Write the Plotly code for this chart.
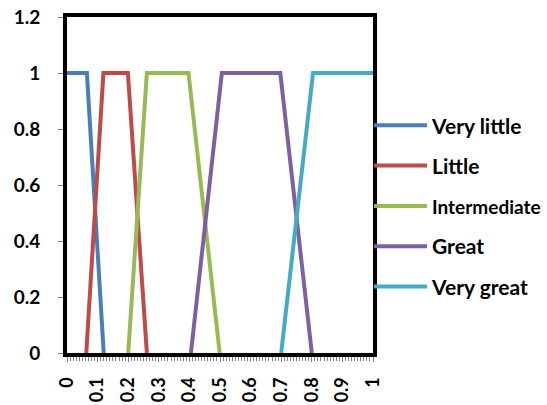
import plotly.graph_objects as go

series_names = ["Very little", "Little", "Intermediate", "Great", "Very great"]
x_very_little = [0, 0.065, 0.12]
y_very_little = [1, 1, 0]
x_little = [0.063, 0.119, 0.199, 0.261]
y_little = [0, 1, 1, 0]
x_intermediate = [0.2, 0.261, 0.397, 0.499]
y_intermediate = [0, 1, 1, 0]
x_great = [0.405, 0.506, 0.697, 0.8]
y_great = [0, 1, 1, 0]
x_very_great = [0.7, 0.804, 1]
y_very_great = [0, 1, 1]

x_tick_vals = [0, 0.1, 0.2, 0.3, 0.4, 0.5, 0.6, 0.7, 0.8, 0.9, 1]
x_tick_text = ["0", "0.1", "0.2", "0.3", "0.4", "0.5", "0.6", "0.7", "0.8", "0.9", "1"]
y_tick_vals = [0, 0.2, 0.4, 0.6, 0.8, 1, 1.2]
y_tick_text = ["0", "0.2", "0.4", "0.6", "0.8", "1", "1.2"]

colors = ["#4A7EBB", "#BE4B48", "#98B954", "#7D60A0", "#46AAC5"]
xs = [x_very_little, x_little, x_intermediate, x_great, x_very_great]
ys = [y_very_little, y_little, y_intermediate, y_great, y_very_great]

FONT = "Lato"

fig = go.Figure()
for name, xv, yv, c in zip(series_names, xs, ys, colors):
    label = name
    if name == "Intermediate":
        label = "<span style='font-size:19px'>" + name + "</span>"
    fig.add_trace(go.Scatter(x=xv, y=yv, name=label, mode="lines",
                             line=dict(color=c, width=4), legendgroup=name))

axis_common = dict(showline=True, linecolor="black", linewidth=4, mirror=True,
                   showgrid=False, zeroline=False, layer="above traces",
                   automargin=False,
                   ticks="outside", tickcolor="#808080", ticklen=5)

fig.update_layout(
    width=547, height=405,
    margin=dict(l=67, r=174, t=17, b=52, autoexpand=False),
    paper_bgcolor="white", plot_bgcolor="white",
    showlegend=True,
    legend=dict(x=0.987, xanchor="left", y=0.437, yanchor="middle",
                font=dict(family=FONT, size=21, color="black", weight="bold"),
                itemwidth=53, tracegroupgap=10, bgcolor="rgba(0,0,0,0)"),
    xaxis=dict(range=[0, 1], tickvals=x_tick_vals, ticktext=x_tick_text,
               tickangle=-90, ticklabelstandoff=8,
               tickfont=dict(family=FONT, size=18, color="black", weight="bold"),
               minor=dict(dtick=0.01, ticks="outside", ticklen=4, tickcolor="#808080"),
               **axis_common),
    yaxis=dict(range=[0, 1.2], tickvals=y_tick_vals, ticktext=y_tick_text,
               ticklabelstandoff=14,
               tickfont=dict(family=FONT, size=19, color="black", weight="bold"),
               **axis_common),
)

fig.write_html("out.html", config={"displayModeBar": False},
               post_script="document.body.style.margin='0';document.body.style.overflow='hidden';")
